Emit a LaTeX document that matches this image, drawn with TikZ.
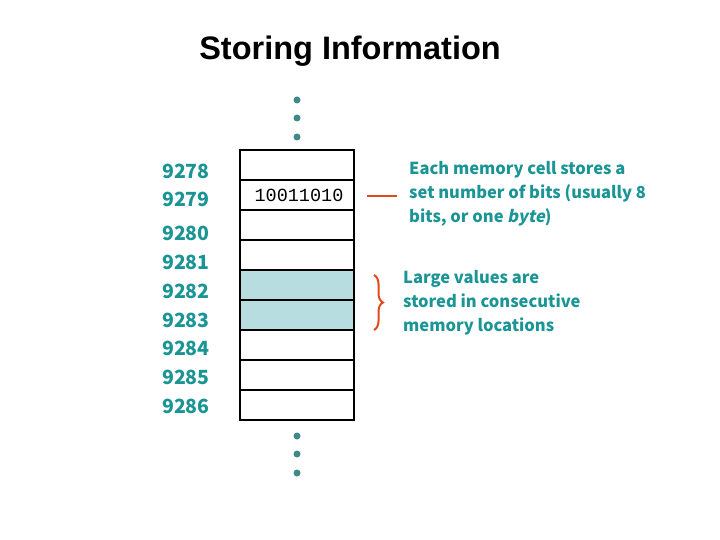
\documentclass[tikz,border=0pt]{standalone}
\usepackage{fontspec}
\setmainfont{Liberation Sans}
\newfontfamily\gothic{Noto Sans CJK JP}
\newfontfamily\gothicsl[FakeSlant=0.2]{Noto Sans CJK JP}
\newfontfamily\monob{Liberation Mono}
\usetikzlibrary{decorations.pathreplacing}
\definecolor{teal1}{HTML}{1A9494}
\definecolor{dotc}{HTML}{3E8A8A}
\definecolor{cellfill}{HTML}{B8DDE0}
\definecolor{red1}{HTML}{E04A1A}
\begin{document}
\begin{tikzpicture}[x=1pt,y=-1pt,
  cell/.style={draw=black,line width=1.2pt,minimum width=114pt,minimum height=30pt,inner sep=0pt,outer sep=0pt},
  addr/.style={text=teal1,font=\gothic\bfseries\fontsize{19.5}{19}\selectfont,anchor=west,inner sep=0pt},
  note/.style={text=teal1,font=\gothic\bfseries\fontsize{16.5}{24}\selectfont,anchor=north west,align=left,inner sep=0pt},
  dot/.style={circle,fill=dotc,minimum size=7pt,inner sep=0pt}]
\useasboundingbox (0,0) rectangle (720,540);
\node[font=\bfseries\fontsize{32.5}{32}\selectfont] (title) at (350,51) {Storing Information};
\foreach \i/\a/\ay in {0/9278/171,1/9279/199,2/9280/233,3/9281/262,4/9282/291,5/9283/320,6/9284/348,7/9285/377,8/9286/406}{
  \node[cell] (c\i) at (297,165+30*\i) {};
  \node[addr] (a\i) at (162,\ay) {\a};
}
\fill[cellfill] (240,270) rectangle (354,330);
\foreach \i in {0,...,8}{\draw[line width=1.2pt] (240,150+30*\i) rectangle (354,180+30*\i);}
\node[font=\monob\fontsize{18.5}{18}\selectfont] (bits) at (299,195) {10011010};
\foreach \j/\y in {1/100,2/118,3/137,4/436,5/454,6/473}{\node[dot] (d\j) at (297,\y) {};}
\coordinate (l1) at (367,196); \coordinate (l2) at (397,196);
\draw[red1,line width=2pt] (l1) -- (l2);
\coordinate (b1) at (374,275); \coordinate (b2) at (374,330);
\draw[red1,line width=2pt,decorate,decoration={brace,amplitude=9pt}] (b1) -- (b2);
\node[note] (n1) at (409,161) {Each memory cell stores a\\set number of bits (usually 8\\bits, or one {\gothicsl\bfseries byte})};
\node[note] (n2) at (403,270) {Large values are\\stored in consecutive\\memory locations};
\end{tikzpicture}
\end{document}
